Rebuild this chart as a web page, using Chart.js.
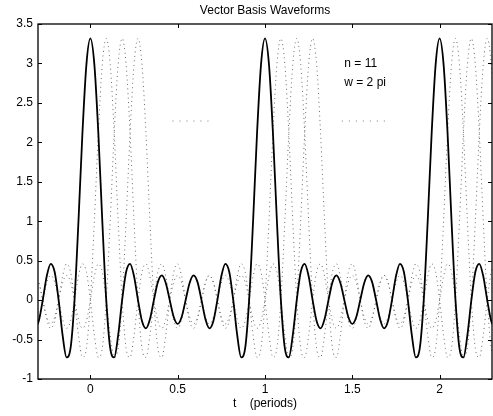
<!DOCTYPE html>
<html>
<head>
<meta charset="utf-8">
<script src="https://cdn.jsdelivr.net/npm/chart.js@4.4.1/dist/chart.umd.min.js"></script>
<style>
  html, body { margin: 0; padding: 0; background: #fff; }
</style>
</head>
<body>
<canvas id="myChart" width="493" height="416"></canvas>
<script>
// sample times (periods)
const tValues = [
  -0.3182, -0.2955, -0.2727, -0.25, -0.2273, -0.2045, -0.1818, -0.1591, -0.1364, -0.1136, -0.0909, -0.0682, -0.0455, -0.0227,
  0, 0.0227, 0.0455, 0.0682, 0.0909, 0.1136, 0.1364, 0.1591, 0.1818, 0.2045, 0.2273, 0.25, 0.2727, 0.2955, 0.3182, 0.3409,
  0.3636, 0.3864, 0.4091, 0.4318, 0.4545, 0.4773, 0.5, 0.5227, 0.5455, 0.5682, 0.5909, 0.6136, 0.6364, 0.6591, 0.6818, 0.7045,
  0.7273, 0.75, 0.7727, 0.7955, 0.8182, 0.8409, 0.8636, 0.8864, 0.9091, 0.9318, 0.9545, 0.9773,
  1, 1.0227, 1.0455, 1.0682, 1.0909, 1.1136, 1.1364, 1.1591, 1.1818, 1.2045, 1.2273, 1.25, 1.2727, 1.2955, 1.3182, 1.3409,
  1.3636, 1.3864, 1.4091, 1.4318, 1.4545, 1.4773, 1.5, 1.5227, 1.5455, 1.5682, 1.5909, 1.6136, 1.6364, 1.6591, 1.6818, 1.7045,
  1.7273, 1.75, 1.7727, 1.7955, 1.8182, 1.8409, 1.8636, 1.8864, 1.9091, 1.9318, 1.9545, 1.9773,
  2, 2.0227, 2.0455, 2.0682, 2.0909, 2.1136, 2.1364, 2.1591, 2.1818, 2.2045, 2.2273, 2.25, 2.2727, 2.2955, 2.3182
];

// solid waveform (peaks at whole periods)
const basis0 = [
  -0.358, -0.266, 0, 0.302, 0.46, 0.356, 0, -0.445, -0.726, -0.61, 0, 1.003, 2.119, 2.989,
  3.317, 2.989, 2.119, 1.003, 0, -0.61, -0.726, -0.445, 0, 0.356, 0.46, 0.302, 0, -0.266, -0.358, -0.243, 0, 0.228, 0.314, 0.218, 0, -0.214,
  -0.302, -0.214, 0, 0.218, 0.314, 0.228, 0, -0.243, -0.358, -0.266, 0, 0.302, 0.46, 0.356, 0, -0.445, -0.726, -0.61, 0, 1.003, 2.119, 2.989,
  3.317, 2.989, 2.119, 1.003, 0, -0.61, -0.726, -0.445, 0, 0.356, 0.46, 0.302, 0, -0.266, -0.358, -0.243, 0, 0.228, 0.314, 0.218, 0, -0.214,
  -0.302, -0.214, 0, 0.218, 0.314, 0.228, 0, -0.243, -0.358, -0.266, 0, 0.302, 0.46, 0.356, 0, -0.445, -0.726, -0.61, 0, 1.003, 2.119, 2.989,
  3.317, 2.989, 2.119, 1.003, 0, -0.61, -0.726, -0.445, 0, 0.356, 0.46, 0.302, 0, -0.266, -0.358
];

// dotted waveforms, peaks 1, 2 and 3 steps later
const basis1 = [
  0.314, 0.228, 0, -0.243, -0.358, -0.266, 0, 0.302, 0.46, 0.356, 0, -0.445, -0.726, -0.61, 0, 1.003, 2.119, 2.989,
  3.317, 2.989, 2.119, 1.003, 0, -0.61, -0.726, -0.445, 0, 0.356, 0.46, 0.302, 0, -0.266, -0.358, -0.243, 0, 0.228, 0.314, 0.218, 0, -0.214,
  -0.302, -0.214, 0, 0.218, 0.314, 0.228, 0, -0.243, -0.358, -0.266, 0, 0.302, 0.46, 0.356, 0, -0.445, -0.726, -0.61, 0, 1.003, 2.119, 2.989,
  3.317, 2.989, 2.119, 1.003, 0, -0.61, -0.726, -0.445, 0, 0.356, 0.46, 0.302, 0, -0.266, -0.358, -0.243, 0, 0.228, 0.314, 0.218, 0, -0.214,
  -0.302, -0.214, 0, 0.218, 0.314, 0.228, 0, -0.243, -0.358, -0.266, 0, 0.302, 0.46, 0.356, 0, -0.445, -0.726, -0.61, 0, 1.003, 2.119, 2.989,
  3.317, 2.989, 2.119, 1.003, 0, -0.61, -0.726, -0.445, 0, 0.356, 0.46
];
const basis2 = [
  -0.302, -0.214, 0, 0.218, 0.314, 0.228, 0, -0.243, -0.358, -0.266, 0, 0.302, 0.46, 0.356, 0, -0.445, -0.726, -0.61, 0, 1.003, 2.119, 2.989,
  3.317, 2.989, 2.119, 1.003, 0, -0.61, -0.726, -0.445, 0, 0.356, 0.46, 0.302, 0, -0.266, -0.358, -0.243, 0, 0.228, 0.314, 0.218, 0, -0.214,
  -0.302, -0.214, 0, 0.218, 0.314, 0.228, 0, -0.243, -0.358, -0.266, 0, 0.302, 0.46, 0.356, 0, -0.445, -0.726, -0.61, 0, 1.003, 2.119, 2.989,
  3.317, 2.989, 2.119, 1.003, 0, -0.61, -0.726, -0.445, 0, 0.356, 0.46, 0.302, 0, -0.266, -0.358, -0.243, 0, 0.228, 0.314, 0.218, 0, -0.214,
  -0.302, -0.214, 0, 0.218, 0.314, 0.228, 0, -0.243, -0.358, -0.266, 0, 0.302, 0.46, 0.356, 0, -0.445, -0.726, -0.61, 0, 1.003, 2.119, 2.989,
  3.317, 2.989, 2.119, 1.003, 0, -0.61, -0.726
];
const basis3 = [
  0.314, 0.218, 0, -0.214,
  -0.302, -0.214, 0, 0.218, 0.314, 0.228, 0, -0.243, -0.358, -0.266, 0, 0.302, 0.46, 0.356, 0, -0.445, -0.726, -0.61, 0, 1.003, 2.119, 2.989,
  3.317, 2.989, 2.119, 1.003, 0, -0.61, -0.726, -0.445, 0, 0.356, 0.46, 0.302, 0, -0.266, -0.358, -0.243, 0, 0.228, 0.314, 0.218, 0, -0.214,
  -0.302, -0.214, 0, 0.218, 0.314, 0.228, 0, -0.243, -0.358, -0.266, 0, 0.302, 0.46, 0.356, 0, -0.445, -0.726, -0.61, 0, 1.003, 2.119, 2.989,
  3.317, 2.989, 2.119, 1.003, 0, -0.61, -0.726, -0.445, 0, 0.356, 0.46, 0.302, 0, -0.266, -0.358, -0.243, 0, 0.228, 0.314, 0.218, 0, -0.214,
  -0.302, -0.214, 0, 0.218, 0.314, 0.228, 0, -0.243, -0.358, -0.266, 0, 0.302, 0.46, 0.356, 0, -0.445, -0.726, -0.61, 0, 1.003, 2.119, 2.989,
  3.317, 2.989, 2.119
];

// the two short dotted strokes at about 2.27
const strayX = [0.47, 0.69, 1.0, 1.44, 1.69];
const strayY = [2.27, 2.27, null, 2.27, 2.27];

const xTicks = [0, 0.5, 1, 1.5, 2];
const yTicks = [-1, -0.5, 0, 0.5, 1, 1.5, 2, 2.5, 3, 3.5];

const notes = ['n = 11', 'w = 2 pi'];
const noteX = [1.454, 1.454];
const noteY = [3.0, 2.75];

const FONT = '"Liberation Sans", Arial, Helvetica, sans-serif';

const toPoints = (xs, ys) => xs.map((x, i) => ({ x: x, y: ys[i] }));

// box with inward ticks on all four sides, plus the text notes
const framePlugin = {
  id: 'frame',
  afterDatasetsDraw(chart) {
    const { ctx, chartArea: a, scales: { x, y } } = chart;
    ctx.save();
    ctx.strokeStyle = '#000';
    ctx.lineWidth = 1.3;
    ctx.strokeRect(a.left, a.top, a.right - a.left, a.bottom - a.top);
    ctx.lineWidth = 1;
    ctx.beginPath();
    for (const v of xTicks) {
      const px = Math.round(x.getPixelForValue(v)) + 0.5;
      ctx.moveTo(px, a.top); ctx.lineTo(px, a.top + 4);
      ctx.moveTo(px, a.bottom); ctx.lineTo(px, a.bottom - 4);
    }
    for (const v of yTicks) {
      const py = Math.round(y.getPixelForValue(v)) + 0.5;
      ctx.moveTo(a.left, py); ctx.lineTo(a.left + 4, py);
      ctx.moveTo(a.right, py); ctx.lineTo(a.right - 4, py);
    }
    ctx.stroke();

    ctx.fillStyle = '#000';
    ctx.font = '12px ' + FONT;
    ctx.textBaseline = 'middle';
    ctx.textAlign = 'left';
    notes.forEach((txt, i) => {
      ctx.fillText(txt, x.getPixelForValue(noteX[i]), y.getPixelForValue(noteY[i]));
    });
    ctx.restore();
  }
};

const drawChart = () => {
  const ctx = document.getElementById('myChart');

  const dotted = (ys) => ({
    data: toPoints(tValues, ys),
    borderColor: '#6a6a6a',
    borderWidth: 1,
    borderDash: [1, 3.5],
    pointRadius: 0,
    cubicInterpolationMode: 'monotone'
  });

  new Chart(ctx, {
    type: 'line',
    data: {
      datasets: [
        {
          data: toPoints(tValues, basis0),
          borderColor: '#000',
          borderWidth: 1.8,
          pointRadius: 0,
          cubicInterpolationMode: 'monotone'
        },
        dotted(basis1),
        dotted(basis2),
        dotted(basis3),
        {
          data: toPoints(strayX, strayY),
          borderColor: '#777',
          borderWidth: 1,
          borderDash: [1, 6],
          pointRadius: 0,
          spanGaps: false
        }
      ]
    },
    plugins: [framePlugin],
    options: {
      responsive: false,
      animation: false,
      events: [],
      layout: { padding: { left: 0, right: 1, top: 0, bottom: 0 } },
      plugins: {
        legend: { display: false },
        tooltip: { enabled: false },
        title: {
          display: true,
          fullSize: false,
          text: 'Vector Basis Waveforms',
          color: '#000',
          font: { family: FONT, size: 12, weight: 'normal' },
          padding: { top: 3, bottom: 6.6 }
        }
      },
      scales: {
        x: {
          type: 'linear',
          min: -0.3,
          max: 2.3,
          afterFit: (s) => { s.height = 37; },
          afterBuildTicks: (s) => { s.ticks = xTicks.map(v => ({ value: v })); },
          grid: { display: false, drawTicks: false },
          border: { display: false },
          ticks: {
            color: '#000',
            padding: 3,
            maxRotation: 0,
            font: { family: FONT, size: 12 },
            callback: (v) => String(v)
          },
          title: {
            display: true,
            text: 't    (periods)',
            color: '#000',
            font: { family: FONT, size: 12 },
            padding: { top: 0, bottom: 4.8 }
          }
        },
        y: {
          type: 'linear',
          min: -1,
          max: 3.5,
          afterFit: (s) => { s.width = 38; },
          afterBuildTicks: (s) => { s.ticks = yTicks.map(v => ({ value: v })); },
          grid: { display: false, drawTicks: false },
          border: { display: false },
          ticks: {
            color: '#000',
            padding: 5,
            font: { family: FONT, size: 12 },
            callback: (v) => String(v)
          }
        }
      }
    }
  });
};

window.addEventListener('load', () => {
  drawChart();
});
</script>
</body>
</html>
